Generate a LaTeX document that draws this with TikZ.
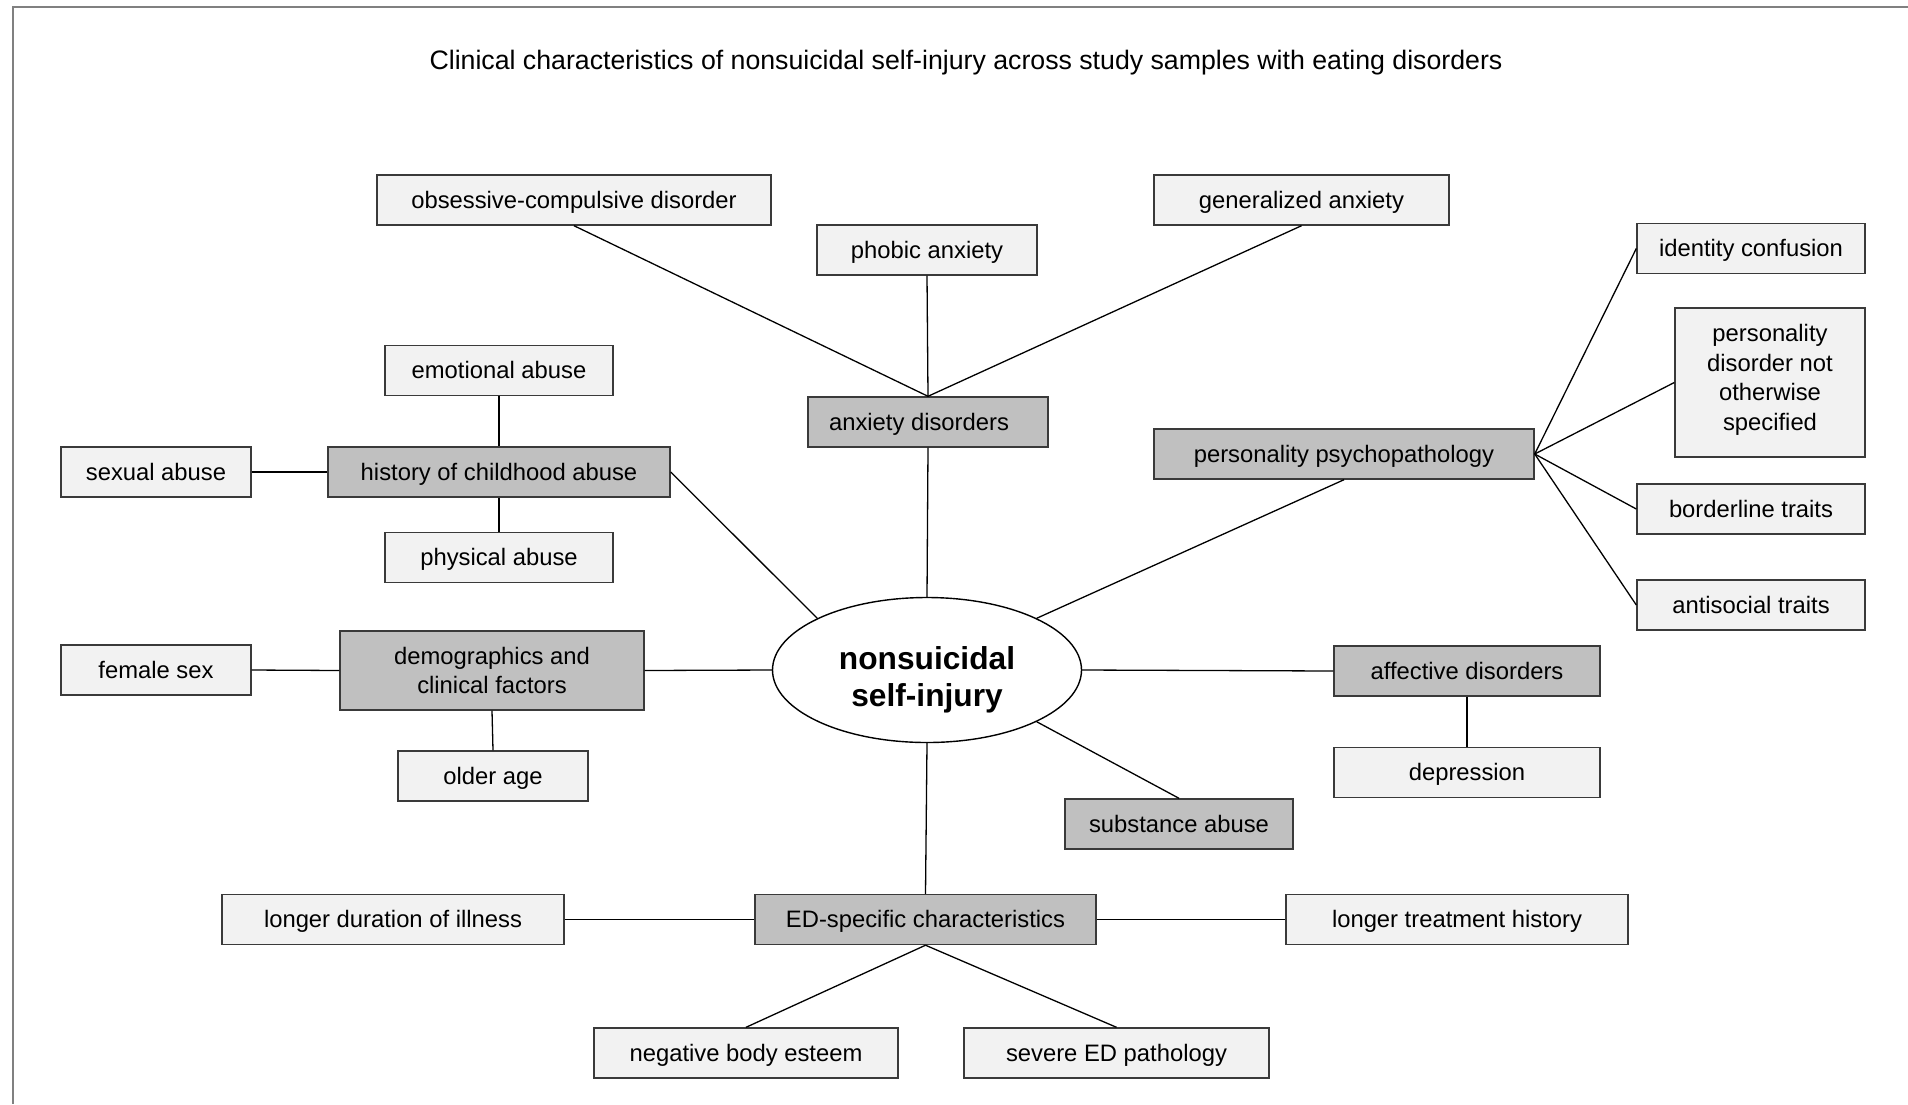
\documentclass[tikz,border=0pt]{standalone}
\usepackage{fontspec}
\setmainfont{Liberation Sans}
\usetikzlibrary{shapes.geometric}
\definecolor{lightfill}{HTML}{F2F2F2}
\definecolor{darkfill}{HTML}{C0C0C0}
\definecolor{boxline}{HTML}{3A3A3A}
\tikzset{
  basebox/.style={rectangle, draw=boxline, line width=1.4pt, inner sep=0pt,
    minimum height=50pt, align=center, font=\fontsize{23.8}{29.5}\selectfont},
  oneline/.style={text height=18pt, text depth=1.4pt},
  lboxm/.style={basebox, fill=lightfill},
  dboxm/.style={basebox, fill=darkfill},
  lbox/.style={lboxm, oneline},
  dbox/.style={dboxm, oneline},
  conn/.style={draw=black, line width=1.3pt},
  frameline/.style={draw=gray, line width=2pt}
}
\begin{document}
\begin{tikzpicture}[x=1pt,y=-1pt]
\useasboundingbox (0,0) rectangle (1908,1104);
\fill[white] (0,0) rectangle (1908,1104);
\coordinate (ftr) at (1908,7);
\coordinate (ftl) at (13,7);
\coordinate (fbl) at (13,1104);
\draw[frameline] (ftr) -- (ftl) -- (fbl);

\node[font=\fontsize{26.7}{30}\selectfont] (title) at (966,62.5) {Clinical characteristics of nonsuicidal self-injury across study samples with eating disorders};

% central ellipse
\node[ellipse, draw=black, line width=1.4pt, fill=white, minimum width=309pt, minimum height=145pt, inner sep=0pt, align=center, font=\fontsize{31.7}{36.5}\selectfont\bfseries] (e) at (927,670) {\rule{0pt}{43pt}nonsuicidal\\self-injury};

% anxiety cluster
\node[lbox, minimum width=394pt] (ocd) at (574,200) {obsessive-compulsive disorder};
\node[lbox, minimum width=220pt] (pho) at (927,250) {phobic anxiety};
\node[lbox, minimum width=295pt] (gen) at (1301.5,200) {generalized anxiety};
\node[dbox, minimum width=240pt] (anx) at (928,422) {anxiety disorders\hspace*{18pt}};

% personality cluster
\node[dbox, minimum width=380pt] (pp) at (1344,454) {personality psychopathology};
\node[lbox, minimum width=228pt] (idc) at (1751,248.5) {identity confusion};
\node[lboxm, minimum width=190pt, minimum height=149pt] (pdn) at (1770,382.5) {personality\\disorder not\\otherwise\\specified\rule[-10pt]{0pt}{0pt}};
\node[lbox, minimum width=228pt] (bor) at (1751,509) {borderline traits};
\node[lbox, minimum width=228pt] (ant) at (1751,605) {antisocial traits};

% childhood abuse cluster
\node[dbox, minimum width=342pt] (his) at (499,472) {history of childhood abuse};
\node[lbox, minimum width=228pt] (emo) at (499,370.5) {emotional abuse};
\node[lbox, minimum width=190pt] (sex) at (156,472) {sexual abuse};
\node[lbox, minimum width=228pt] (phy) at (499,557.5) {physical abuse};

% demographics cluster
\node[dboxm, minimum width=304pt, minimum height=79pt] (dem) at (492,670.5) {demographics and\\clinical factors};
\node[lbox, minimum width=190pt] (fem) at (156,670) {female sex};
\node[lbox, minimum width=190pt] (old) at (493,776) {older age};

% affective / substance
\node[dbox, minimum width=266pt] (aff) at (1467,671) {affective disorders};
\node[lbox, minimum width=266pt] (dep) at (1467,772.5) {depression};
\node[dbox, minimum width=228pt] (sub) at (1179,824) {substance abuse};

% ED cluster
\node[dbox, minimum width=341pt] (ed) at (925.5,919.5) {ED-specific characteristics};
\node[lbox, minimum width=342pt] (ldi) at (393,919.5) {longer duration of illness};
\node[lbox, minimum width=342pt] (lth) at (1457,919.5) {longer treatment history};
\node[lbox, minimum width=304pt] (neg) at (746,1053) {negative body esteem};
\node[lbox, minimum width=305pt] (sev) at (1116.5,1053) {severe ED pathology};

% connectors
\draw[conn] (ocd.south) -- (anx.north);
\draw[conn] (pho.south) -- (anx.north);
\draw[conn] (gen.south) -- (anx.north);
\draw[conn] (anx.south) -- (e.north);

\draw[conn] (pp.south) -- (e.north east);
\draw[conn] (pp.east) -- (idc.west);
\draw[conn] (pp.east) -- (pdn.west);
\draw[conn] (pp.east) -- (bor.west);
\draw[conn] (pp.east) -- (ant.west);

\draw[conn] (emo.south) -- (his.north);
\draw[conn] (sex.east) -- (his.west);
\draw[conn] (phy.north) -- (his.south);
\draw[conn] (his.east) -- (e.north west);

\draw[conn] (fem.east) -- (dem.west);
\draw[conn] (dem.south) -- (old.north);
\draw[conn] (dem.east) -- (e.west);

\draw[conn] (e.east) -- (aff.west);
\draw[conn] (aff.south) -- (dep.north);
\draw[conn] (e.south east) -- (sub.north);

\draw[conn] (e.south) -- (ed.north);
\draw[conn] (ldi.east) -- (ed.west);
\draw[conn] (ed.east) -- (lth.west);
\draw[conn] (ed.south) -- (neg.north);
\draw[conn] (ed.south) -- (sev.north);
\end{tikzpicture}
\end{document}
